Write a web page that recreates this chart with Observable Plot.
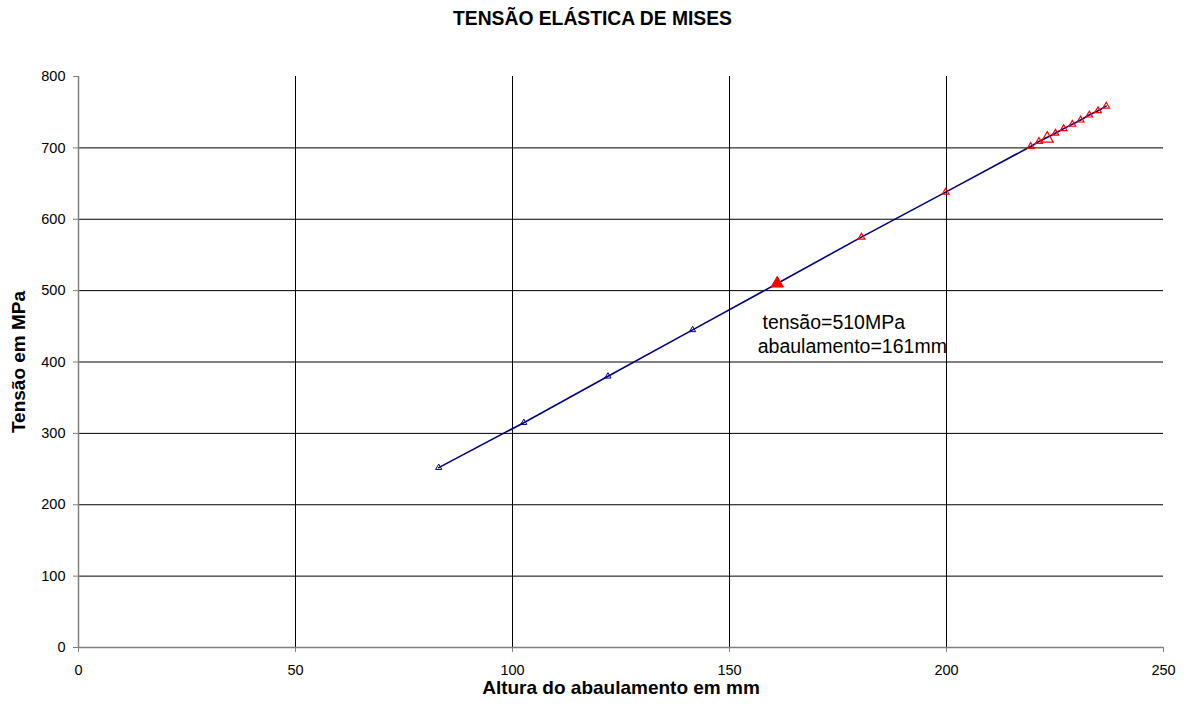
<!DOCTYPE html>
<html>
<head>
<meta charset="utf-8">
<script src="https://cdn.jsdelivr.net/npm/d3@7"></script>
<script src="https://cdn.jsdelivr.net/npm/@observablehq/plot@0.6"></script>
<style>
  html, body { margin: 0; padding: 0; background: #fff; }
  body { width: 1185px; height: 711px; overflow: hidden; font-family: "Liberation Sans", Arial, sans-serif; }
  #title { height: 38px; line-height: 38px; text-align: center; font-weight: bold; font-size: 19.3px; color: #000; }
  g[aria-label$="axis tick"] { stroke: #808080; }
</style>
</head>
<body>
<div id="title">TENSÃO ELÁSTICA DE MISES</div>
<div id="chart"></div>
<script>
// ---- data ----
const blueX = [83, 102.6, 122, 141.5];
const blueY = [252, 315, 380, 445];
const highlightX = [161];
const highlightY = [510];
const redX = [180.4, 199.8, 219.4, 221.3, 225.1, 227, 229, 230.9, 232.9, 234.9, 236.8];
const redY = [575, 638, 702, 709, 720.5, 727, 733, 739, 746, 752, 758.5];
const bigOpenX = [223.2];
const bigOpenY = [713];
const xTicks = [0, 50, 100, 150, 200, 250];
const yTicks = [0, 100, 200, 300, 400, 500, 600, 700, 800];
const xGrid = [50, 100, 150, 200];
const yGrid = [100, 200, 300, 400, 500, 600, 700];
const noteLines = ["tensão=510MPa", "abaulamento=161mm"];
const noteX = [157.6, 156.5];
const noteY = [455, 422];
const xTitle = "Altura do abaulamento em mm";
const yTitle = "Tensão em MPa";

const zip = (xs, ys) => xs.map((x, i) => ({x, y: ys[i]}));
const blue = zip(blueX, blueY);
const hi = zip(highlightX, highlightY);
const red = zip(redX, redY);
const bigOpen = zip(bigOpenX, bigOpenY);
const linePts = [...blue, ...hi, ...red].sort((a, b) => a.x - b.x);
const notes = noteLines.map((t, i) => ({t, x: noteX[i], y: noteY[i]}));

const font = '"Liberation Sans", Arial, sans-serif';
const chart = Plot.plot({
  width: 1185,
  height: 673,
  marginLeft: 78,
  marginRight: 22,
  marginTop: 38,
  marginBottom: 64,
  style: { fontFamily: font, fontSize: "14.5px", color: "#000", background: "#fff", overflow: "visible" },
  x: { domain: [0, 250], ticks: xTicks, tickSize: 5, tickPadding: 12, label: null, tickFormat: d => d },
  y: { domain: [0, 800], ticks: yTicks, tickSize: 5, tickPadding: 8, label: null, tickFormat: d => d },
  marks: [
    Plot.ruleX(xGrid, { stroke: "#000", strokeWidth: 1 }),
    Plot.ruleY(yGrid, { stroke: "#000", strokeWidth: 1 }),
    Plot.ruleX([0], { stroke: "#808080", strokeWidth: 1.5 }),
    Plot.ruleY([0], { stroke: "#808080", strokeWidth: 1.5 }),
    Plot.line(linePts, { x: "x", y: "y", stroke: "#000080", strokeWidth: 1.6 }),
    Plot.dot(blue, { x: "x", y: "y", symbol: "triangle", r: 2.3, stroke: "#000080", strokeWidth: 1, fill: "none" }),
    Plot.dot(red, { x: "x", y: "y", symbol: "triangle", r: 2.5, stroke: "#ff0000", strokeWidth: 1.2, fill: "none" }),
    Plot.dot(bigOpen, { x: "x", y: "y", symbol: "triangle", r: 4.5, stroke: "#ff0000", strokeWidth: 1.2, fill: "none" }),
    Plot.dot(hi, { x: "x", y: "y", symbol: "triangle", r: 4.6, stroke: "#ff0000", strokeWidth: 1, fill: "#ff0000" }),
    Plot.text(notes, { x: "x", y: "y", text: "t", textAnchor: "start", fontSize: 19.5, fill: "#000" }),
    Plot.text([xTitle], { frameAnchor: "bottom", textAnchor: "middle", lineAnchor: "middle", dy: 40, fontSize: 19, fontWeight: "bold", fill: "#000" }),
    Plot.text([yTitle], { frameAnchor: "left", textAnchor: "middle", lineAnchor: "middle", dx: -60, rotate: -90, fontSize: 19, fontWeight: "bold", fill: "#000" })
  ]
});
document.getElementById("chart").appendChild(chart);
</script>
</body>
</html>
